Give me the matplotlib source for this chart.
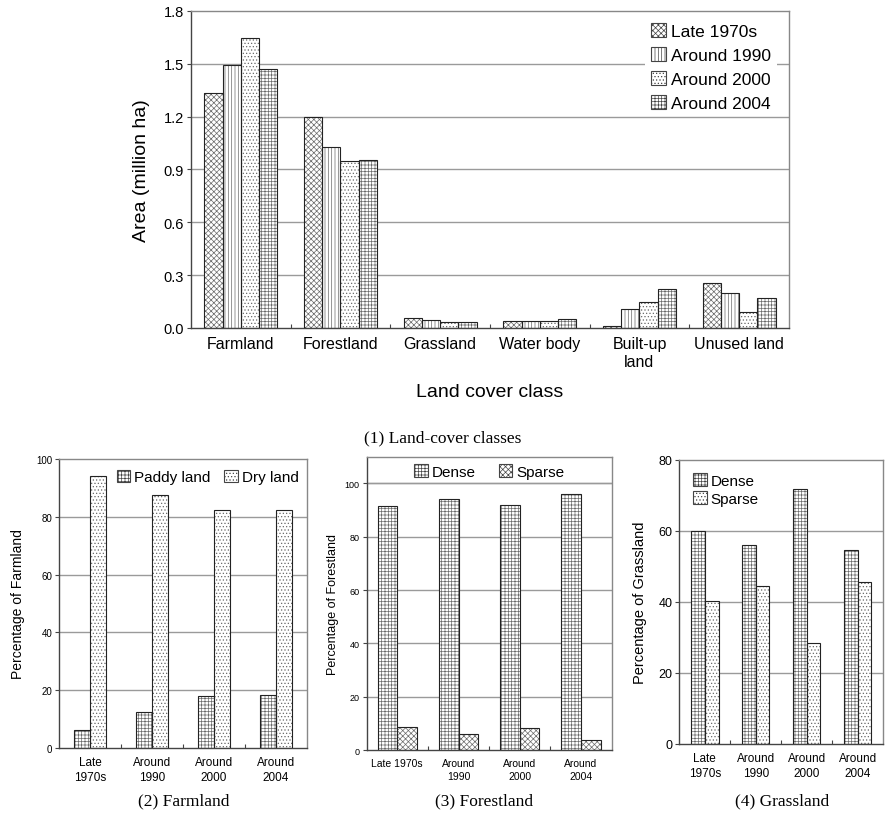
import numpy as np
import matplotlib
matplotlib.use('Agg')
import matplotlib.pyplot as plt
from matplotlib.patches import Patch

plt.rcParams['font.family'] = ['Liberation Sans', 'DejaVu Sans']
plt.rcParams['hatch.linewidth'] = 0.5

# (1) land-cover classes, million ha
classes = ['Farmland', 'Forestland', 'Grassland', 'Water body', 'Built-up\nland', 'Unused land']
periods = ['Late 1970s', 'Around 1990', 'Around 2000', 'Around 2004']
area_1970s = [1.333, 1.197, 0.057, 0.040, 0.010, 0.255]
area_1990 = [1.492, 1.029, 0.044, 0.040, 0.108, 0.197]
area_2000 = [1.647, 0.947, 0.032, 0.040, 0.146, 0.089]
area_2004 = [1.469, 0.955, 0.032, 0.051, 0.223, 0.168]

# (2) farmland, %
farm_ticks = ['Late\n1970s', 'Around\n1990', 'Around\n2000', 'Around\n2004']
paddy = [6.1, 12.4, 18.0, 18.2]
dry = [94.2, 87.7, 82.5, 82.3]

# (3) forestland, %
forest_ticks = ['Late 1970s', 'Around\n1990', 'Around\n2000', 'Around\n2004']
forest_dense = [91.5, 94.1, 91.9, 96.1]
forest_sparse = [8.5, 6.0, 8.3, 3.9]

# (4) grassland, %
grass_ticks = ['Late\n1970s', 'Around\n1990', 'Around\n2000', 'Around\n2004']
grass_dense = [59.8, 55.9, 71.7, 54.5]
grass_sparse = [40.3, 44.4, 28.4, 45.6]

EDGE = '#222222'
HATCH = '#6a6a6a'
GRID = '#9a9a9a'

H_CHECK = 'xxxxxx'
H_VLINE = '|||||'
H_DOTS = '.....'
H_GRID = '+++++'


def hatched_bar(ax, xs, vals, width, hatch):
    # hatch in grey, outline in dark
    ax.bar(xs, vals, width, color='white', edgecolor=HATCH, hatch=hatch,
           lw=0, zorder=2)
    ax.bar(xs, vals, width, fill=False, edgecolor=EDGE, lw=0.8, zorder=3)


def handles(labels, hatch_list):
    return [Patch(facecolor='white', edgecolor='#444444', hatch=h, lw=0.8, label=l)
            for l, h in zip(labels, hatch_list)]


def style_axes(ax, ngroups, ymax, yticks, tick_fs):
    ax.set_xlim(-0.5, ngroups - 0.5)
    ax.set_ylim(0, ymax)
    ax.set_yticks(yticks)
    for y in yticks[1:]:
        if y < ymax:
            ax.axhline(y, color=GRID, lw=1.0, zorder=0)
    for s in ax.spines.values():
        s.set_color('#888888')
        s.set_linewidth(1.0)
    ax.spines['bottom'].set_color('#444444')
    ax.spines['left'].set_color('#444444')
    ax.tick_params(axis='y', direction='out', length=3, width=0.8,
                   color='#444444', labelsize=tick_fs, pad=2)
    ax.set_xticks(np.arange(ngroups))
    ax.set_xticks(np.arange(ngroups - 1) + 0.5, minor=True)
    ax.tick_params(axis='x', which='major', length=0)
    ax.tick_params(axis='x', which='minor', direction='in', length=3,
                   width=0.8, color='#444444')


fig = plt.figure(figsize=(8.85, 8.2), dpi=100)

# ---- top chart
ax1 = fig.add_axes([0.2158, 0.5988, 0.6757, 0.3866])
x = np.arange(len(classes))
w = 0.183
top_hatches = [H_CHECK, H_VLINE, H_DOTS, H_GRID]
series = [area_1970s, area_1990, area_2000, area_2004]
for i, (vals, h) in enumerate(zip(series, top_hatches)):
    hatched_bar(ax1, x + (i - 1.5) * w, vals, w, h)
style_axes(ax1, 6, 1.8, [0.0, 0.3, 0.6, 0.9, 1.2, 1.5, 1.8], 10.5)
ax1.yaxis.set_major_formatter(matplotlib.ticker.FormatStrFormatter('%.1f'))
ax1.set_xticklabels(classes, fontsize=11.5)
ax1.tick_params(axis='x', which='major', pad=6)
ax1.set_ylabel('Area (million ha)', fontsize=14, labelpad=10)
ax1.set_xlabel('Land cover class', fontsize=14, labelpad=10)
leg = ax1.legend(handles=handles(periods, top_hatches), loc='upper right',
                 bbox_to_anchor=(0.99, 1.0),
                 fontsize=12.5, frameon=True, handlelength=0.9, handleheight=0.9,
                 handletextpad=0.3, labelspacing=0.45, borderaxespad=0.37,
                 borderpad=0.3, fancybox=False)
leg.get_frame().set_edgecolor('none')
leg.get_frame().set_facecolor('white')
leg.get_frame().set_alpha(1.0)
leg.set_zorder(5)


def two_series(ax, a, b, ha, hb, width, ticks, ymax, yticks,
               tick_fs, ylabel, ylabel_fs, xfs, lpad):
    xx = np.arange(len(a))
    hatched_bar(ax, xx - width / 2, a, width, ha)
    hatched_bar(ax, xx + width / 2, b, width, hb)
    style_axes(ax, len(a), ymax, yticks, tick_fs)
    ax.set_xticklabels(ticks, fontsize=xfs, linespacing=1.3)
    ax.tick_params(axis='x', which='major', pad=6)
    ax.set_ylabel(ylabel, fontsize=ylabel_fs, labelpad=lpad)


# ---- (2) farmland
ax2 = fig.add_axes([0.0667, 0.0866, 0.2802, 0.3524])
two_series(ax2, paddy, dry, H_GRID, H_DOTS, 0.26, farm_ticks, 100,
           [0, 20, 40, 60, 80, 100], 7, 'Percentage of Farmland', 10, 8.5, 8)
ax2.legend(handles=handles(['Paddy land', 'Dry land'], [H_GRID, H_DOTS]),
           loc='upper center', bbox_to_anchor=(0.6, 1.0), ncol=2, fontsize=11,
           frameon=False, handlelength=0.9, handleheight=0.9, handletextpad=0.25,
           columnspacing=0.9, borderaxespad=0.3)

# ---- (3) forestland
ax3 = fig.add_axes([0.4143, 0.0841, 0.2768, 0.3577])
two_series(ax3, forest_dense, forest_sparse, H_GRID, H_CHECK, 0.32, forest_ticks, 110,
           [0, 20, 40, 60, 80, 100], 6.5, 'Percentage of Forestland', 9, 7.5, 4)
ax3.axhline(100, color=GRID, lw=1.0, zorder=0)
ax3.legend(handles=handles(['Dense', 'Sparse'], [H_GRID, H_CHECK]),
           loc='upper center', ncol=2, fontsize=11, frameon=False,
           handlelength=0.9, handleheight=0.9, handletextpad=0.25,
           columnspacing=1.5, borderaxespad=0.1)

# ---- (4) grassland
ax4 = fig.add_axes([0.7676, 0.0915, 0.2302, 0.3467])
two_series(ax4, grass_dense, grass_sparse, H_GRID, H_DOTS, 0.27, grass_ticks, 80,
           [0, 20, 40, 60, 80], 9, 'Percentage of Grassland', 10.5, 8.5, 8)
ax4.legend(handles=handles(['Dense', 'Sparse'], [H_GRID, H_DOTS]),
           loc='upper left', fontsize=11, frameon=False,
           handlelength=0.9, handleheight=0.9, handletextpad=0.25,
           labelspacing=0.2, borderaxespad=0.5)

cap = dict(fontsize=12.5, family='Liberation Serif', ha='center', va='center')
fig.text(0.5, 1 - 438 / 820, '(1) Land-cover classes', **cap)
fig.text(184 / 885, 1 - 801 / 820, '(2) Farmland', **cap)
fig.text(484 / 885, 1 - 801 / 820, '(3) Forestland', **cap)
fig.text(782 / 885, 1 - 801 / 820, '(4) Grassland', **cap)

fig.savefig('out.png', dpi=100)
